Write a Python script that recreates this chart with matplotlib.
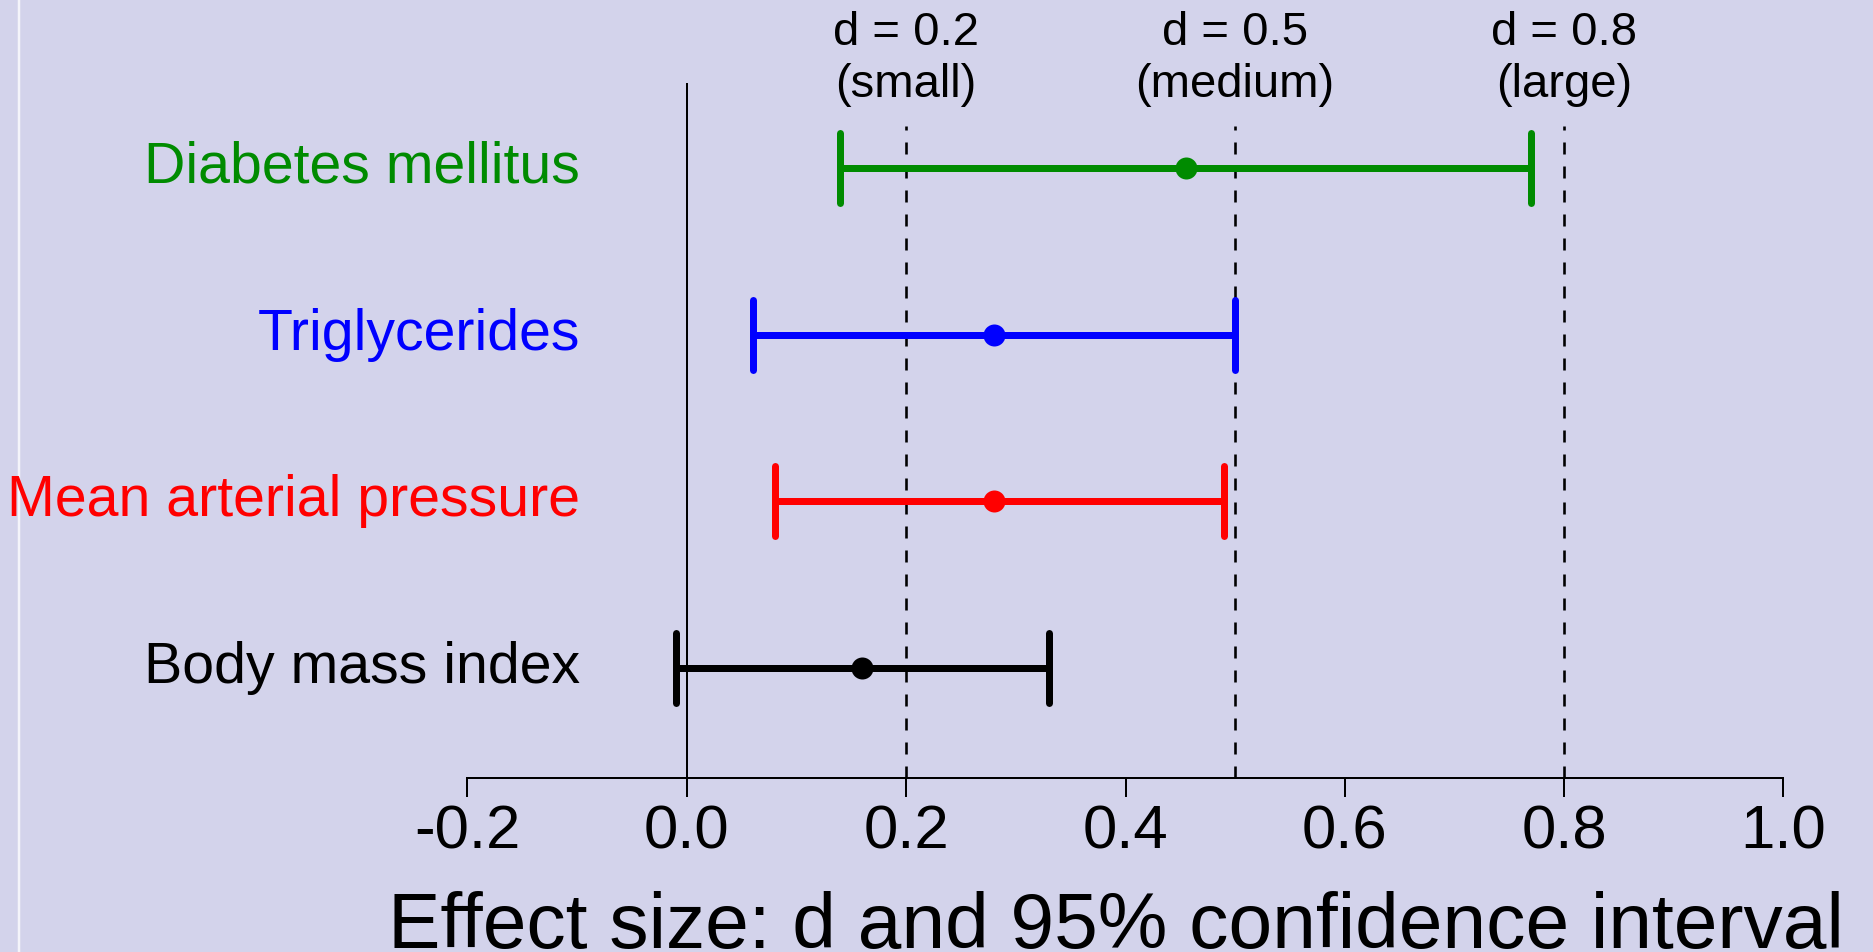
import matplotlib
matplotlib.use("Agg")
import matplotlib.pyplot as plt
from matplotlib.transforms import offset_copy, blended_transform_factory

# ---- data ----
labels = ["Body mass index", "Mean arterial pressure", "Triglycerides", "Diabetes mellitus"]
colors = ["#000000", "#FF0000", "#0000FF", "#008B00"]
estimates = [0.16, 0.28, 0.28, 0.455]
lower = [-0.01, 0.08, 0.06, 0.14]
upper = [0.33, 0.49, 0.50, 0.77]
ref_d = [0.2, 0.5, 0.8]
ref_names = ["(small)", "(medium)", "(large)"]
ref_tops = ["d = 0.2", "d = 0.5", "d = 0.8"]
xticks = [-0.2, 0.0, 0.2, 0.4, 0.6, 0.8, 1.0]
xticklabels = ["-0.2", "0.0", "0.2", "0.4", "0.6", "0.8", "1.0"]

W, H, DPI = 1874, 953, 100
BG = "#D3D3EB"
FONT = "Liberation Sans"
px = 72.0 / DPI  # points per pixel

fig = plt.figure(figsize=(W / DPI, H / DPI), dpi=DPI, facecolor=BG)
# thin light border line near left edge (behind everything)
fig.add_artist(plt.Line2D([19.5 / W, 19.5 / W], [0, 1], color="#F4F4FA", lw=2.5 * px,
                          transform=fig.transFigure, zorder=-5))

# axes spans x from -0.2 (px 467) to 1.0 (px 1783), y from px 779 (bottom) to px 84 (top)
x0, x1 = 467.5, 1783.5
yb, yt = 779, 84
ax = fig.add_axes([x0 / W, 1 - yb / H, (x1 - x0) / W, (yb - yt) / H])
ax.set_facecolor(BG)
ax.patch.set_alpha(0)

# row pixel spacing ~166.7 px per unit; row 1 at px 669, row 4 at px 169
ppu = 166.7
ylo = 1 - (yb - 669) / ppu
yhi = 4 + (169 - yt) / ppu
ax.set_xlim(-0.2, 1.0)
ax.set_ylim(ylo, yhi)

# zero line
ax.plot([0, 0], [ylo, yhi], color="black", lw=2 * px, solid_capstyle="butt", clip_on=False, zorder=2)
# reference dashed lines
dash_top = 4 + (169 - 127) / ppu
lw_d = 2.6 * px
for d in ref_d:
    ax.plot([d, d], [ylo, dash_top], color="black", lw=lw_d,
            linestyle=(0, (12 * px / lw_d, 12 * px / lw_d)), clip_on=False, zorder=2)

# error bars
cap_half = 35 / ppu
lw_e = 7 * px
for i, (lab, c, e, lo, hi) in enumerate(zip(labels, colors, estimates, lower, upper)):
    y = i + 1
    ax.plot([lo, hi], [y, y], color=c, lw=lw_e, solid_capstyle="butt", zorder=3, clip_on=False)
    for xv in (lo, hi):
        ax.plot([xv, xv], [y - cap_half, y + cap_half], color=c, lw=lw_e,
                solid_capstyle="round", zorder=3, clip_on=False)
    ax.plot([e], [y], "o", color=c, ms=22 * px, mec=c, mew=0, zorder=4, clip_on=False)
    # row label, right-aligned at px 580, baseline 14 px below row centre
    tr = offset_copy(ax.transData, fig=fig, x=0, y=-14 * px, units="points")
    xl = (580 - 687) / 1096.5
    ax.text(xl, y, lab, color=c, fontsize=41.2, family=FONT, ha="right", va="baseline",
            transform=tr, clip_on=False)

# top annotations
btr = blended_transform_factory(ax.transData, fig.transFigure)
for d, t1, t2 in zip(ref_d, ref_tops, ref_names):
    ax.text(d, 1 - 45 / H, t1, transform=btr, ha="center", va="baseline",
            fontsize=34, family=FONT, color="black")
    ax.text(d, 1 - 97 / H, t2, transform=btr, ha="center", va="baseline",
            fontsize=34, family=FONT, color="black")

# axis styling (R-like)
for s in ["top", "right", "left"]:
    ax.spines[s].set_visible(False)
ax.spines["bottom"].set_linewidth(2 * px)
ax.spines["bottom"].set_bounds(-0.2, 1.0)
ax.set_yticks([])
ax.set_xticks(xticks)
ax.set_xticklabels(xticklabels, fontsize=44.5, family=FONT)
ax.tick_params(axis="x", direction="out", length=19 * px, width=2 * px, pad=7 * px, colors="black")

# x label
fig.text(((x0 + x1) / 2 - 10) / W, 1 - 948 / H, "Effect size: d and 95% confidence interval",
         ha="center", va="baseline", fontsize=56.5, family=FONT, color="black")

fig.savefig("out.png", dpi=DPI, facecolor=BG)
